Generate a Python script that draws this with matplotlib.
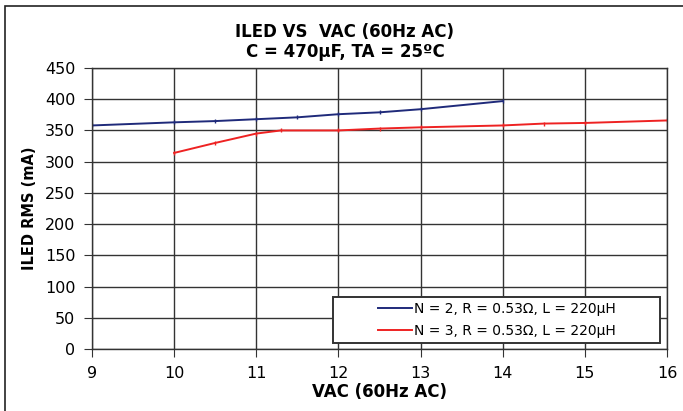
import matplotlib.pyplot as plt
from matplotlib.patches import Rectangle
from matplotlib.lines import Line2D

plt.rcParams['font.family'] = ['DejaVu Sans']

# N = 2 curve
vac_n2 = [9, 10, 10.5, 11, 11.5, 12, 12.5, 13, 14]
iled_n2 = [358, 363, 365, 368, 371, 376, 379, 384, 397]

# N = 3 curve
vac_n3 = [10, 10.5, 11, 11.3, 12, 12.5, 13, 14, 14.5, 15, 16]
iled_n3 = [314, 330, 345, 350, 350, 353, 355, 358, 361, 362, 366]

labels = ['N = 2, R = 0.53Ω, L = 220μH', 'N = 3, R = 0.53Ω, L = 220μH']
colors = ['#1f2a7a', '#ee2222']

xticks = [9, 10, 11, 12, 13, 14, 15, 16]
yticks = list(range(0, 451, 50))

fig = plt.figure(figsize=(6.83, 4.11), dpi=100)
ax = fig.add_axes([92/683, 62/411, 575/683, 281/411])

ax.plot(vac_n2, iled_n2, color=colors[0], lw=1.4, marker='|', ms=3)
ax.plot(vac_n3, iled_n3, color=colors[1], lw=1.4, marker='|', ms=3)

ax.set_xlim(9, 16)
ax.set_ylim(0, 450)
ax.set_xticks(xticks)
ax.set_yticks(yticks)
ax.grid(True, color='#333333', lw=1)
ax.set_axisbelow(True)
ax.tick_params(direction='out', length=6, labelsize=11.5, color='#333333', pad=6)
for s in ax.spines.values():
    s.set_color('#333333')
    s.set_linewidth(1)

ax.set_xlabel('VAC (60Hz AC)', fontsize=12, fontweight='bold', labelpad=2)
ax.set_ylabel('ILED RMS (mA)', fontsize=10.5, fontweight='bold', labelpad=6)
fig.text(0.505, 0.922, 'ILED VS  VAC (60Hz AC)', ha='center', va='center',
         fontsize=12, fontweight='bold')
fig.text(0.505, 0.873, 'C = 470μF, TA = 25ºC', ha='center', va='center',
         fontsize=12, fontweight='bold')

# legend box, wider than its entries
box = Rectangle((0.419, 0.021), 0.569, 0.164, transform=ax.transAxes,
                facecolor='white', edgecolor='#333333', lw=1.4, zorder=4)
ax.add_patch(box)
handles = [Line2D([], [], color=c, lw=1.4) for c in colors]
leg = ax.legend(handles, labels, loc='center', bbox_to_anchor=(0.7035, 0.103),
                fontsize=10, frameon=False, handlelength=2.5, handletextpad=0.1,
                labelspacing=0.55, borderpad=0)
leg.set_zorder(5)

# outer frame around the chart
fig.patches.append(Rectangle((5/683, -0.05), 1.1, (405/411) + 0.05,
                             transform=fig.transFigure, fill=False,
                             edgecolor='#222222', lw=1.2))

fig.savefig('out.png', dpi=100)
